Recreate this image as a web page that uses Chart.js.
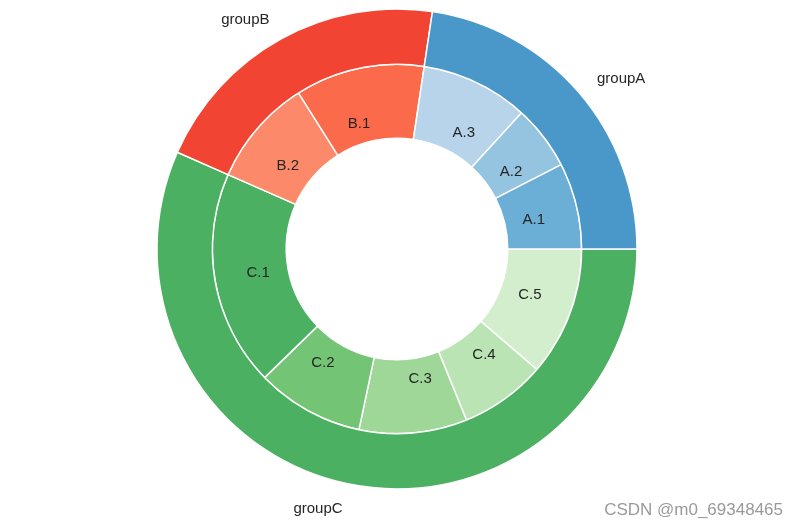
<!DOCTYPE html>
<html>
<head>
<meta charset="utf-8">
<script src="https://cdn.jsdelivr.net/npm/chart.js@4"></script>
<style>
  body { margin: 0; background: #fff; }
  #wrap { position: relative; width: 794px; height: 525px; }
  #mark { position: absolute; right: 11px; top: 500px; font: 17px "Liberation Sans", Arial, sans-serif; color: #9a9a9a; }
</style>
</head>
<body>
<div id="wrap">
  <canvas id="grafico" width="794" height="525"></canvas>
  <div id="mark">CSDN @m0_69348465</div>
</div>
<script>
// grupos (anel externo)
const groupNames = ['groupA', 'groupB', 'groupC'];
const groupSizes = [12, 11, 30];
const groupColors = ['#4a98c9', '#f14432', '#4bb062'];

// subgrupos (anel interno)
const subNames = ['A.1', 'A.2', 'A.3', 'B.1', 'B.2', 'C.1', 'C.2', 'C.3', 'C.4', 'C.5'];
const subSizes = [4, 3, 5, 6, 5, 10, 5, 5, 4, 6];
const subColors = ['#6baed6', '#94c4df', '#b7d4ea', '#fb6a4a', '#fc8a6a',
                   '#4bb062', '#74c476', '#9ed798', '#bae4b3', '#d3eecd'];

// chart.js desenha no sentido horario, entao invertemos para ficar anti-horario como no matplotlib
const rev = arr => arr.slice().reverse();

const labelFont = '15px "Liberation Sans", Arial, sans-serif';

// desenha os rotulos de um anel, alinhados a esquerda/direita conforme o lado
function desenharRotulos(chart, index, dist, dy) {
    const ctx = chart.ctx;
    const meta = chart.getDatasetMeta(index);
    meta.data.forEach((arc, i) => {
        const p = arc.getProps(['x', 'y', 'startAngle', 'endAngle', 'outerRadius'], true);
        const mid = (p.startAngle + p.endAngle) / 2;
        const r = p.outerRadius * dist;
        const x = p.x + r * Math.cos(mid);
        const y = p.y + r * Math.sin(mid);
        ctx.textAlign = x > p.x ? 'left' : 'right';
        ctx.fillText(chart.data.datasets[index].labels[i], x, y + dy);
    });
}

const rotulos = {
    id: 'rotulos',
    afterDraw(chart) {
        const ctx = chart.ctx;
        ctx.save();
        ctx.font = labelFont;
        ctx.fillStyle = '#262626';
        ctx.textBaseline = 'middle';
        desenharRotulos(chart, 0, 1.1, 2);
        desenharRotulos(chart, 1, 0.7, 1);
        ctx.restore();
    }
};

const ctx = document.getElementById('grafico').getContext('2d');
new Chart(ctx, {
    type: 'doughnut',
    data: {
        datasets: [
            {
                labels: rev(groupNames),
                data: rev(groupSizes),
                backgroundColor: rev(groupColors),
                weight: 0.3
            },
            {
                labels: rev(subNames),
                data: rev(subSizes),
                backgroundColor: rev(subColors),
                weight: 0.4
            }
        ]
    },
    options: {
        responsive: false,
        animation: false,
        rotation: 90,
        radius: 240,
        cutout: (0.6 / 1.3 * 100) + '%',
        layout: { padding: { top: 9, bottom: 36 } },
        elements: {
            arc: { borderColor: '#ffffff', borderWidth: 1.5, hoverOffset: 0 }
        },
        plugins: {
            legend: { display: false },
            tooltip: { enabled: false }
        }
    },
    plugins: [rotulos]
});
</script>
</body>
</html>
